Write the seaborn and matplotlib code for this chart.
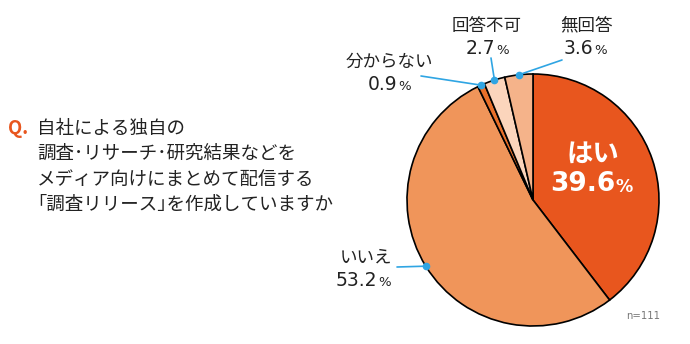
import numpy as np
import matplotlib
matplotlib.use("Agg")
import matplotlib.pyplot as plt
import seaborn as sns

categories = ["はい", "いいえ", "分からない", "回答不可", "無回答"]
values = [39.6, 53.2, 0.9, 2.7, 3.6]
colors = ["#E8561E", "#F0955A", "#E8702A", "#FBD5BC", "#F5B38A"]
question = ["自社による独自の", "調査･リサーチ･研究結果などを",
            "メディア向けにまとめて配信する", "｢調査リリース｣を作成していますか"]
n_label = "n=111"

sns.set_theme(style="white")
plt.rcParams['font.family'] = ['Noto Sans CJK JP', 'DejaVu Sans']

W, H = 690, 344
fig = plt.figure(figsize=(W / 100, H / 100), dpi=100)
fig.patch.set_facecolor("white")

cx, cy, r = 533, 200, 126
ax = fig.add_axes([(cx - r) / W, (H - cy - r) / H, 2 * r / W, 2 * r / H])
wedges, _ = ax.pie(values, colors=colors, startangle=90, counterclock=False,
                   radius=1.0, wedgeprops=dict(edgecolor="black", linewidth=1.2))
ax.set_xlim(-1, 1)
ax.set_ylim(-1, 1)
ax.set_aspect("auto")
ax.axis("off")

def fp(x, y):
    return (x / W, 1 - y / H)

TXT = "#222222"
NUMFONT = ["DejaVu Sans"]

# Question text
fig.text(*fp(8, 129), "Q.", color="#E8561E", fontsize=13.3, va="center", ha="left",
         fontweight="bold")
for i, line in enumerate(question):
    fig.text(*fp(37, 129 + i * 25.3), line, color=TXT, fontsize=13.3,
             va="center", ha="left")

# Inside label for はい
fig.text(*fp(593, 154), categories[0], color="white", fontsize=19,
         fontweight="bold", ha="center", va="center")
fig.text(*fp(615, 184), f"{values[0]:.1f}", color="white", fontsize=19,
         fontweight="bold", ha="right", va="center", family=NUMFONT)
fig.text(*fp(616, 187.5), "%", color="white", fontsize=12.5,
         fontweight="bold", ha="left", va="center", family=NUMFONT)

line_color = "#2FA5E3"

def mid_angle(i):
    start = 90 - sum(values[:i]) / 100 * 360
    return np.deg2rad(start - values[i] / 100 * 360 / 2)

# outside labels: (index, name center, number right end, line start)
outs = [
    (1, (366, 258), (377, 281), (397, 267)),
    (2, (389, 61.5), (397, 84.5), (421, 76)),
    (3, (487, 25.5), (495, 48.5), (491, 58)),
    (4, (586, 25.5), (593, 48.5), (562, 60)),
]
for i, npos, numpos, lstart in outs:
    a = mid_angle(i)
    px, py = np.cos(a), np.sin(a)
    ax.annotate("", xy=(px, py), xycoords="data",
                xytext=fp(*lstart), textcoords="figure fraction",
                arrowprops=dict(arrowstyle="-", color=line_color, lw=1.2,
                                shrinkA=0, shrinkB=0), annotation_clip=False)
    ax.plot([px], [py], "o", color=line_color, markersize=4.5, clip_on=False, zorder=5)
    fig.text(*fp(*npos), categories[i], color=TXT, fontsize=12.6,
             ha="center", va="center")
    fig.text(*fp(*numpos), f"{values[i]:.1f}", color=TXT, fontsize=13.5,
             ha="right", va="center", family=NUMFONT)
    fig.text(*fp(numpos[0] + 1, numpos[1] + 2), "%", color=TXT, fontsize=9.5,
             ha="left", va="center", family=NUMFONT)

fig.text(*fp(643, 316), n_label, color="#777777", fontsize=7.3, ha="center",
         va="center", family=NUMFONT)

fig.savefig("out.png", dpi=100, facecolor="white")
